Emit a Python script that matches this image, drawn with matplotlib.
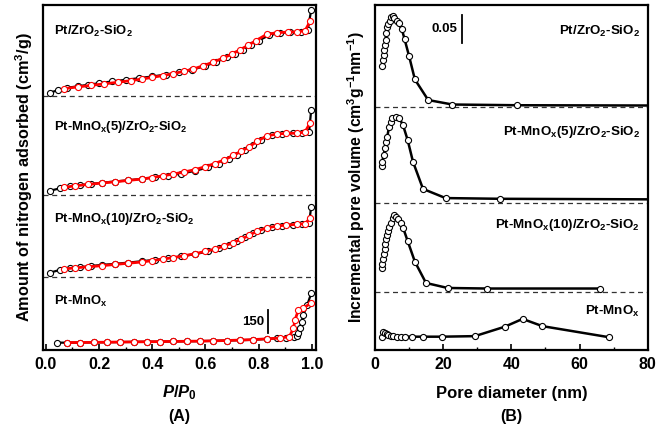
import matplotlib
matplotlib.use("Agg")
import matplotlib.pyplot as plt
from matplotlib.ticker import MultipleLocator

plt.rcParams["font.family"] = ["Liberation Sans", "DejaVu Sans"]
plt.rcParams["font.weight"] = "bold"
plt.rcParams["axes.labelweight"] = "bold"
plt.rcParams["mathtext.fontset"] = "custom"
plt.rcParams["mathtext.rm"] = "Liberation Sans:bold"
plt.rcParams["mathtext.bf"] = "Liberation Sans:bold"
plt.rcParams["mathtext.it"] = "Liberation Sans:italic:bold"
plt.rcParams["mathtext.default"] = "bf"

samples = [
    "Pt/ZrO$_2$-SiO$_2$",
    "Pt-MnO$_x$(5)/ZrO$_2$-SiO$_2$",
    "Pt-MnO$_x$(10)/ZrO$_2$-SiO$_2$",
    "Pt-MnO$_x$",
]

# N2 isotherms, adsorbed amount (cm3/g) above each stacking offset
ads_p = [
    [0.014, 0.047, 0.08, 0.12, 0.16, 0.2, 0.25, 0.3, 0.35, 0.4, 0.45, 0.5, 0.55,
     0.6, 0.64, 0.68, 0.71, 0.74, 0.77, 0.8, 0.84, 0.88, 0.92, 0.96, 0.985, 0.998],
    [0.016, 0.054, 0.09, 0.13, 0.17, 0.21, 0.26, 0.31, 0.36, 0.41, 0.46, 0.51, 0.56,
     0.61, 0.65, 0.69, 0.72, 0.75, 0.78, 0.81, 0.85, 0.89, 0.93, 0.965, 0.99, 0.998],
    [0.014, 0.052, 0.09, 0.13, 0.17, 0.21, 0.26, 0.31, 0.36, 0.41, 0.46, 0.51, 0.56,
     0.61, 0.65, 0.69, 0.72, 0.75, 0.78, 0.81, 0.85, 0.89, 0.93, 0.965, 0.99, 0.998],
    [0.041, 0.08, 0.13, 0.18, 0.23, 0.28, 0.33, 0.38, 0.43, 0.48, 0.53, 0.58, 0.63,
     0.68, 0.73, 0.78, 0.83, 0.87, 0.905, 0.935, 0.944, 0.95, 0.956, 0.962, 0.968,
     0.983, 0.998],
]
ads_q = [
    [20, 37, 52, 62, 72, 82, 94, 104, 115, 126, 138, 152, 170,
     195, 220, 250, 275, 300, 330, 360, 395, 410, 414, 417, 430, 559],
    [28, 44, 56, 64, 72, 80, 88, 96, 105, 115, 126, 140, 157,
     180, 205, 235, 262, 292, 325, 360, 390, 400, 402, 403, 410, 554],
    [26, 44, 56, 62, 70, 77, 84, 92, 101, 110, 120, 133, 147,
     165, 185, 210, 232, 258, 285, 305, 322, 333, 340, 345, 350, 456],
    [48, 48, 49, 50, 51, 52, 53, 54, 55, 56, 57, 58, 60,
     62, 64, 67, 72, 76, 80, 86, 91, 109, 141, 185, 228, 293, 370],
]
des_p = [
    [0.995, 0.975, 0.945, 0.91, 0.87, 0.83, 0.79, 0.76, 0.73, 0.70, 0.665, 0.63, 0.59,
     0.555, 0.52, 0.48, 0.44, 0.40, 0.36, 0.32, 0.27, 0.22, 0.17, 0.12, 0.07],
    [0.993, 0.975, 0.945, 0.905, 0.87, 0.83, 0.795, 0.765, 0.735, 0.705, 0.67, 0.635, 0.6,
     0.56, 0.52, 0.48, 0.44, 0.40, 0.36, 0.31, 0.26, 0.21, 0.16, 0.11, 0.07],
    [0.995, 0.975, 0.945, 0.905, 0.87, 0.83, 0.795, 0.765, 0.735, 0.705, 0.67, 0.635, 0.6,
     0.56, 0.52, 0.48, 0.44, 0.40, 0.36, 0.31, 0.26, 0.21, 0.16, 0.11, 0.07],
    [0.998, 0.968, 0.95, 0.937, 0.931, 0.916, 0.88, 0.83, 0.78, 0.73, 0.68, 0.63, 0.58,
     0.53, 0.48, 0.43, 0.38, 0.33, 0.28, 0.23, 0.18, 0.13, 0.08],
]
des_q = [
    [489, 425, 417, 415, 412, 400, 360, 328, 300, 272, 245, 220, 195,
     175, 160, 145, 132, 120, 109, 99, 88, 78, 68, 58, 47],
    [468, 411, 403, 402, 398, 385, 350, 315, 285, 258, 228, 205, 185,
     165, 150, 137, 125, 114, 104, 95, 86, 78, 69, 60, 50],
    [385, 346, 342, 337, 331, 318, 298, 270, 245, 222, 200, 180, 165,
     150, 137, 125, 115, 105, 96, 88, 80, 72, 65, 58, 51],
    [308, 272, 261, 196, 141, 87, 78, 73, 68, 65, 62, 60, 58,
     57, 56, 55, 54, 53, 52, 51, 50, 49, 49],
]
iso_offsets = [1658, 1011, 478, 0]

# BJH pore size distributions (cm3 g-1 nm-1) above each stacking offset
pore_d = [
    [2.1, 2.3, 2.5, 2.7, 2.9, 3.1, 3.3, 3.5, 3.8, 4.3, 4.7, 5.3, 5.6, 6.4, 6.9,
     7.9, 8.7, 10.0, 11.7, 15.6, 22.7, 41.7, 90.0],
    [1.96, 2.15, 2.54, 2.93, 3.22, 3.6, 4.1, 4.69, 5.08, 6.06, 7.14, 8.21, 9.58,
     11.14, 14.08, 20.7, 36.8, 90.0],
    [1.97, 2.14, 2.43, 2.64, 2.85, 2.93, 3.14, 3.43, 3.73, 4.11, 4.61, 5.19, 5.57,
     6.16, 6.83, 7.54, 8.3, 9.59, 11.7, 14.96, 21.3, 32.8, 66.0],
    [2.14, 2.43, 2.93, 3.43, 3.9, 4.6, 5.4, 6.4, 7.5, 8.8, 10.8, 14.2, 19.6,
     29.3, 38.1, 43.3, 49.1, 68.7],
]
pore_v = [
    [0.074, 0.085, 0.094, 0.103, 0.112, 0.121, 0.133, 0.145, 0.149, 0.155, 0.163,
     0.164, 0.160, 0.155, 0.151, 0.140, 0.122, 0.092, 0.050, 0.013, 0.0049, 0.0036, 0.003],
    [0.067, 0.074, 0.086, 0.098, 0.109, 0.119, 0.136, 0.145, 0.152, 0.154, 0.152,
     0.140, 0.113, 0.074, 0.025, 0.0085, 0.0072, 0.006],
    [0.043, 0.050, 0.059, 0.068, 0.077, 0.086, 0.095, 0.103, 0.110, 0.118, 0.125,
     0.133, 0.139, 0.136, 0.131, 0.125, 0.115, 0.092, 0.055, 0.0167, 0.0077, 0.0067, 0.0067],
    [0.024, 0.033, 0.031, 0.029, 0.027, 0.026, 0.025, 0.024, 0.024, 0.024, 0.024,
     0.024, 0.024, 0.025, 0.042, 0.056, 0.043, 0.023],
]
pore_offsets = [0.437, 0.265, 0.104, 0.0]

iso_label_y = [2075, 1456, 854, 315]
pore_label_y = [0.573, 0.393, 0.225, 0.069]

fig = plt.figure(figsize=(6.7, 4.29), dpi=100)
ax_a = fig.add_axes([0.0649, 0.1841, 0.4067, 0.8042])
ax_b = fig.add_axes([0.5597, 0.1841, 0.4070, 0.8042])

mk = dict(marker="o", markersize=4.4, markerfacecolor="white", markeredgewidth=0.8)

# (A) isotherms
for i in range(4):
    off = iso_offsets[i]
    ax_a.plot(ads_p[i], [off + q for q in ads_q[i]], color="black", lw=1.6,
              markeredgecolor="black", zorder=3, **mk)
    ax_a.plot(des_p[i], [off + q for q in des_q[i]], color="red", lw=2.0,
              markeredgecolor="red", zorder=4, **mk)
    if off > 0:
        ax_a.axhline(off, color="#333333", lw=0.9, ls=(0, (4, 3)), zorder=1)
    ax_a.text(0.03, iso_label_y[i], samples[i], fontsize=9.4, fontweight="bold",
              ha="left", va="center")

# 150 cm3/g scale bar
ax_a.plot([0.837, 0.837], [109, 259], color="black", lw=1.3)
ax_a.text(0.82, 184, "150", fontsize=9.5, fontweight="bold", ha="right", va="center")

ax_a.set_xlim(-0.009, 1.016)
ax_a.set_ylim(0, 2250)
ax_a.set_yticks([])
ax_a.xaxis.set_major_locator(MultipleLocator(0.2))
ax_a.xaxis.set_minor_locator(MultipleLocator(0.1))
ax_a.set_xticks([0.0, 0.2, 0.4, 0.6, 0.8, 1.0])
ax_a.set_xticklabels(["0.0", "0.2", "0.4", "0.6", "0.8", "1.0"])
ax_a.set_xlabel("$\\mathit{P/P_0}$", fontsize=12, labelpad=8)
ax_a.set_ylabel("Amount of nitrogen adsorbed (cm$^3$/g)", fontsize=11.7, labelpad=6)
ax_a.text(0.5, -0.193, "(A)", transform=ax_a.transAxes, fontsize=11.5,
          fontweight="bold", ha="center", va="center")

# (B) pore size distributions
for i in range(4):
    off = pore_offsets[i]
    ax_b.plot(pore_d[i], [off + v for v in pore_v[i]], color="black", lw=1.8,
              markeredgecolor="black", zorder=3, **mk)
    if off > 0:
        ax_b.axhline(off, color="#333333", lw=0.9, ls=(0, (4, 3)), zorder=1)
    ax_b.text(77.7, pore_label_y[i], samples[i], fontsize=9.6, fontweight="bold",
              ha="right", va="center")

# 0.05 cm3 g-1 nm-1 scale bar
ax_b.plot([25.4, 25.4], [0.553, 0.603], color="black", lw=1.3)
ax_b.text(24.3, 0.578, "0.05", fontsize=9.5, fontweight="bold", ha="right", va="center")

ax_b.set_xlim(0, 80)
ax_b.set_ylim(0, 0.621)
ax_b.set_yticks([])
ax_b.xaxis.set_major_locator(MultipleLocator(20))
ax_b.xaxis.set_minor_locator(MultipleLocator(10))
ax_b.set_xlabel("Pore diameter (nm)", fontsize=12, labelpad=10)
ax_b.set_ylabel("Incremental pore volume (cm$^3$g$^{-1}$nm$^{-1}$)", fontsize=11.3,
                labelpad=6)
ax_b.text(0.5, -0.193, "(B)", transform=ax_b.transAxes, fontsize=11.5,
          fontweight="bold", ha="center", va="center")

for ax in (ax_a, ax_b):
    for sp in ax.spines.values():
        sp.set_linewidth(1.6)
    ax.tick_params(axis="x", which="major", direction="in", length=4, width=1.2,
                   labelsize=11.5, pad=5)
    ax.tick_params(axis="x", which="minor", direction="in", length=2.5, width=1.0)
    for lbl in ax.get_xticklabels():
        lbl.set_fontweight("bold")

fig.savefig("out.png", dpi=100)
